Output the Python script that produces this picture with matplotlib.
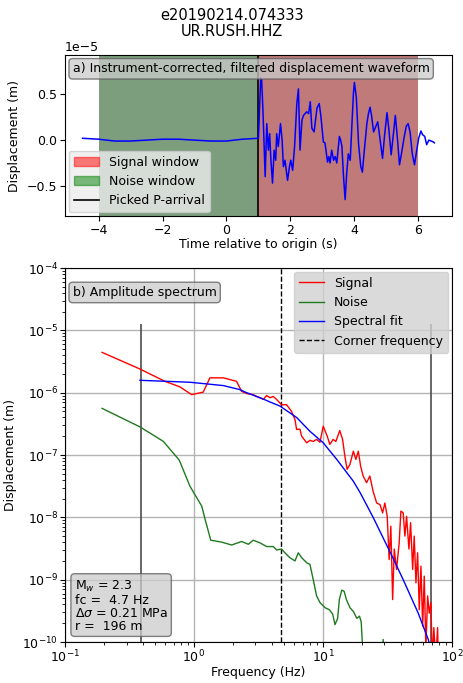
import numpy as np
import matplotlib
matplotlib.use("Agg")
import matplotlib.pyplot as plt
from matplotlib.patches import Patch
from matplotlib.lines import Line2D

# --- waveform (time in s, displacement in 1e-5 m) ---
wave_t = [-4.5, -4.0, -3.5, -3.0, -2.5, -2.0, -1.5, -1.0, -0.5, 0.0, 0.5, 1.0,
          1.07, 1.10, 1.14, 1.21, 1.26, 1.31, 1.35, 1.39, 1.44, 1.49, 1.54, 1.57,
          1.62, 1.69, 1.74, 1.78, 1.83, 1.91, 1.97, 2.01, 2.07, 2.13, 2.20, 2.25,
          2.30, 2.36, 2.41, 2.51, 2.57, 2.62, 2.67, 2.74, 2.83, 2.90, 2.95, 3.03,
          3.08, 3.16, 3.20, 3.24, 3.29, 3.35, 3.40, 3.45, 3.53, 3.57, 3.61, 3.66,
          3.71, 3.76, 3.81, 3.87, 3.92, 3.97, 4.00, 4.06, 4.13, 4.20, 4.25, 4.30,
          4.39, 4.44, 4.49, 4.54, 4.60, 4.67, 4.73, 4.78, 4.88, 4.94, 5.02, 5.08,
          5.15, 5.22, 5.28, 5.35, 5.41, 5.49, 5.55, 5.62, 5.68, 5.74, 5.81, 5.88,
          5.95, 6.01, 6.08, 6.13, 6.20, 6.26, 6.33, 6.40, 6.47, 6.50]
wave_d = [0.02, 0.01, -0.01, -0.01, 0.0, 0.01, 0.01, 0.0, -0.01, -0.01, 0.01, 0.02,
          0.68, 0.66, 0.33, -0.40, 0.18, -0.11, 0.07, -0.22, -0.47, -0.11, -0.22, 0.07,
          -0.07, 0.18, 0.0, -0.29, -0.22, -0.44, -0.29, -0.22, -0.33, -0.07, 0.40, 0.56,
          -0.11, 0.22, 0.27, 0.31, 0.29, 0.42, 0.13, 0.09, 0.35, 0.40, 0.27, -0.02,
          -0.03, -0.24, -0.18, -0.25, -0.11, -0.22, -0.18, -0.25, 0.04, 0.0, -0.07, -0.40,
          -0.65, -0.36, -0.15, -0.22, 0.15, 0.51, 0.63, 0.47, -0.04, -0.29, -0.35, -0.15,
          0.18, 0.29, 0.36, 0.26, 0.09, 0.15, 0.20, 0.07, -0.20, 0.04, 0.30, 0.11,
          -0.16, 0.07, 0.27, 0.0, -0.27, -0.11, 0.02, 0.15, 0.18, 0.09, -0.15, -0.27,
          -0.11, 0.02, 0.10, 0.06, 0.04, -0.05, 0.0, -0.01, -0.02, -0.03]
p_arrival = 1.0
noise_win = (-4.0, 1.0)
signal_win = (1.0, 6.0)

# --- spectra (Hz, m) ---
sig_f = [0.194, 0.381, 0.596, 0.778, 0.96, 1.18, 1.33, 1.69, 2.14, 2.34, 2.56, 2.88,
         3.06, 3.25, 3.45, 3.66, 3.88, 4.12, 4.37, 4.78, 5.23, 5.71, 6.07, 6.25, 6.63,
         6.84, 7.48, 7.93, 8.41, 8.93, 9.48, 10.05, 10.8, 11.3, 12.0, 12.6, 13.5, 14.2,
         14.8, 15.4, 16.2, 17.2, 18.0, 18.8, 19.6, 20.5, 21.8, 23.1, 24.5, 26.1, 27.7,
         29.0, 30.2, 31.5, 32.6, 33.6, 34.7, 35.7, 37.2, 39.0, 40.2, 41.9, 43.2, 44.5,
         46.4, 47.8, 49.6, 51.0, 52.6, 54.2, 55.8, 57.5, 59.3, 61.0, 62.8, 64.8, 66.7,
         68.7, 70.5, 72.4, 75.0, 77.4, 78.5]
sig_a = [4.43e-6, 2.40e-6, 1.52e-6, 1.24e-6, 9.3e-7, 1.02e-6, 1.73e-6, 1.73e-6, 1.52e-6,
         1.05e-6, 9.7e-7, 9.3e-7, 8.7e-7, 8.3e-7, 7.8e-7, 9.0e-7, 8.3e-7, 8.7e-7, 7.8e-7,
         6.4e-7, 6.4e-7, 5.0e-7, 3.7e-7, 2.57e-7, 2.6e-7, 2.0e-7, 1.57e-7, 1.72e-7, 1.65e-7,
         1.78e-7, 1.6e-7, 2.9e-7, 2.0e-7, 1.48e-7, 1.78e-7, 1.65e-7, 2.47e-7, 1.78e-7,
         9.5e-8, 5.9e-8, 7.1e-8, 1.15e-7, 8.5e-8, 1.15e-7, 6.6e-8, 4.6e-8, 3.6e-8, 4.6e-8,
         2.6e-8, 1.7e-8, 1.6e-8, 1.18e-8, 1.7e-8, 1.04e-8, 2.1e-9, 7.2e-9, 4.8e-10, 3.1e-9,
         1.46e-9, 3.9e-9, 1.26e-8, 1.18e-8, 5.0e-9, 1.04e-8, 3.1e-9, 8.2e-9, 1.46e-9, 5.0e-9,
         8.9e-10, 2.7e-9, 3.3e-10, 1.65e-9, 1.8e-10, 1.14e-9, 8e-11, 5.5e-10, 2.9e-10,
         4.3e-10, 5e-11, 1.7e-10, 5e-11, 1.7e-10, 5e-11]

noise_f = [0.194, 0.381, 0.578, 0.769, 0.931, 1.15, 1.22, 1.35, 1.64, 1.96, 2.34, 2.64,
           2.88, 3.25, 3.66, 4.12, 4.37, 4.78, 5.07, 5.54, 6.07, 6.44, 6.84, 7.48, 7.93,
           8.41, 8.93, 9.48, 10.4, 11.2, 11.9, 12.4, 13.0, 13.4, 14.0, 14.6, 15.2, 16.2,
           17.2, 18.3, 19.2, 19.8, 20.3, 25.0, 28.8, 29.3, 29.8, 35.0, 50.0, 80.0]
noise_a = [5.6e-7, 2.83e-7, 1.66e-7, 8.3e-8, 3.16e-8, 1.51e-8, 9.3e-9, 4.3e-9, 4.0e-9,
           3.6e-9, 4.1e-9, 3.7e-9, 4.3e-9, 3.9e-9, 3.4e-9, 3.4e-9, 3.0e-9, 3.1e-9, 2.7e-9,
           2.25e-9, 2.0e-9, 2.7e-9, 2.25e-9, 1.87e-9, 1.76e-9, 1.0e-9, 5.5e-10, 4.3e-10,
           3.55e-10, 3.3e-10, 2.8e-10, 1.9e-10, 2.4e-10, 4.8e-10, 6.8e-10, 6.5e-10, 4.8e-10,
           3.55e-10, 3.1e-10, 2.4e-10, 2.6e-10, 2.1e-10, 8e-11, 4e-11, 5e-11, 1.1e-10,
           5e-11, 3e-11, 2e-11, 1e-11]

fit_f = [0.381, 0.93, 1.69, 2.27, 2.56, 3.45, 3.88, 4.64, 6.25, 7.93, 10.05, 12.8,
         17.2, 19.4, 24.5, 35.0, 41.9, 54.8, 65.5, 68.4]
fit_a = [1.58e-6, 1.47e-6, 1.30e-6, 1.12e-6, 1.0e-6, 7.9e-7, 7.1e-7, 6.1e-7, 4.0e-7,
         2.4e-7, 1.57e-7, 8.5e-8, 3.8e-8, 2.5e-8, 1.0e-8, 2.2e-9, 1.0e-9, 2.9e-10,
         1.1e-10, 8e-11]

fc = 4.7
band = [0.39, 68.4]
band_top = 1.25e-5
info = "M$_w$ = 2.3\nfc =  4.7 Hz\n$\\Delta\\sigma$ = 0.21 MPa\nr =  196 m"

FS = 9
fig = plt.figure(figsize=(4.64, 6.83), dpi=100)
fig.text(0.5, 0.988, "e20190214.074333\nUR.RUSH.HHZ", ha="center", va="top",
         fontsize=10.5, linespacing=1.1)

# ---- a) waveform ----
ax1 = fig.add_axes([0.140, 0.6837, 0.834, 0.2357])
ax1.axvspan(*noise_win, color="#7d9e7d", lw=0)
ax1.axvspan(*signal_win, color="#c07a7a", lw=0)
ax1.axvline(p_arrival, color="k", lw=1.2)
ax1.plot(wave_t, np.array(wave_d) * 1e-5, color="b", lw=1.1)
ax1.set_xlim(-5.05, 7.05)
ax1.set_ylim(-0.83e-5, 0.93e-5)
ax1.set_xticks([-4, -2, 0, 2, 4, 6])
ax1.set_yticks([-0.5e-5, 0.0, 0.5e-5])
ax1.ticklabel_format(axis="y", style="sci", scilimits=(-5, -5))
ax1.set_xlabel("Time relative to origin (s)", fontsize=FS, labelpad=1)
ax1.set_ylabel("Displacement (m)", fontsize=FS)
ax1.tick_params(labelsize=FS, pad=2)
ax1.yaxis.get_offset_text().set_fontsize(FS)
ax1.text(0.02, 0.955, "a) Instrument-corrected, filtered displacement waveform",
         transform=ax1.transAxes, ha="left", va="top", fontsize=FS,
         bbox=dict(boxstyle="round", fc="0.8", ec="0.35", alpha=0.75))
handles = [Patch(color="r", alpha=0.5), Patch(color="g", alpha=0.5),
           Line2D([], [], color="k", lw=1.2)]
ax1.legend(handles, ["Signal window", "Noise window", "Picked P-arrival"],
           loc="lower left", fontsize=FS, facecolor="0.93", framealpha=0.8,
           borderaxespad=0.3)

# ---- b) spectrum ----
ax2 = fig.add_axes([0.140, 0.0600, 0.834, 0.5476])
ax2.set_xscale("log")
ax2.set_yscale("log")
ax2.grid(True, which="major", color="0.7", lw=1)
ax2.set_axisbelow(True)
ax2.vlines(band, 1e-11, band_top, colors="0.3", lw=1.2)
ax2.axvline(fc, color="k", ls="--", lw=1, label="Corner frequency")
ax2.plot(sig_f, sig_a, color="r", lw=1, label="Signal")
ax2.plot(noise_f, noise_a, color="#1f7a1f", lw=1, label="Noise")
ax2.plot(fit_f, fit_a, color="b", lw=1, label="Spectral fit")
ax2.set_xlim(0.1, 100)
ax2.set_ylim(1e-10, 1e-4)
ax2.set_xlabel("Frequency (Hz)", fontsize=FS, labelpad=0)
ax2.set_ylabel("Displacement (m)", fontsize=FS)
ax2.tick_params(labelsize=FS, pad=1.5)
h, l = ax2.get_legend_handles_labels()
order = [1, 2, 3, 0]
ax2.legend([h[i] for i in order], [l[i] for i in order], loc="upper right",
           fontsize=FS, facecolor="0.82", framealpha=0.8, borderaxespad=0.3)
ax2.text(0.02, 0.952, "b) Amplitude spectrum", transform=ax2.transAxes,
         ha="left", va="top", fontsize=FS,
         bbox=dict(boxstyle="round", fc="0.8", ec="0.35", alpha=0.75))
ax2.text(0.025, 0.025, info, transform=ax2.transAxes, ha="left", va="bottom",
         fontsize=FS, linespacing=1.0,
         bbox=dict(boxstyle="round", fc="0.8", ec="0.35", alpha=0.75))

fig.savefig("out.png", dpi=100)
